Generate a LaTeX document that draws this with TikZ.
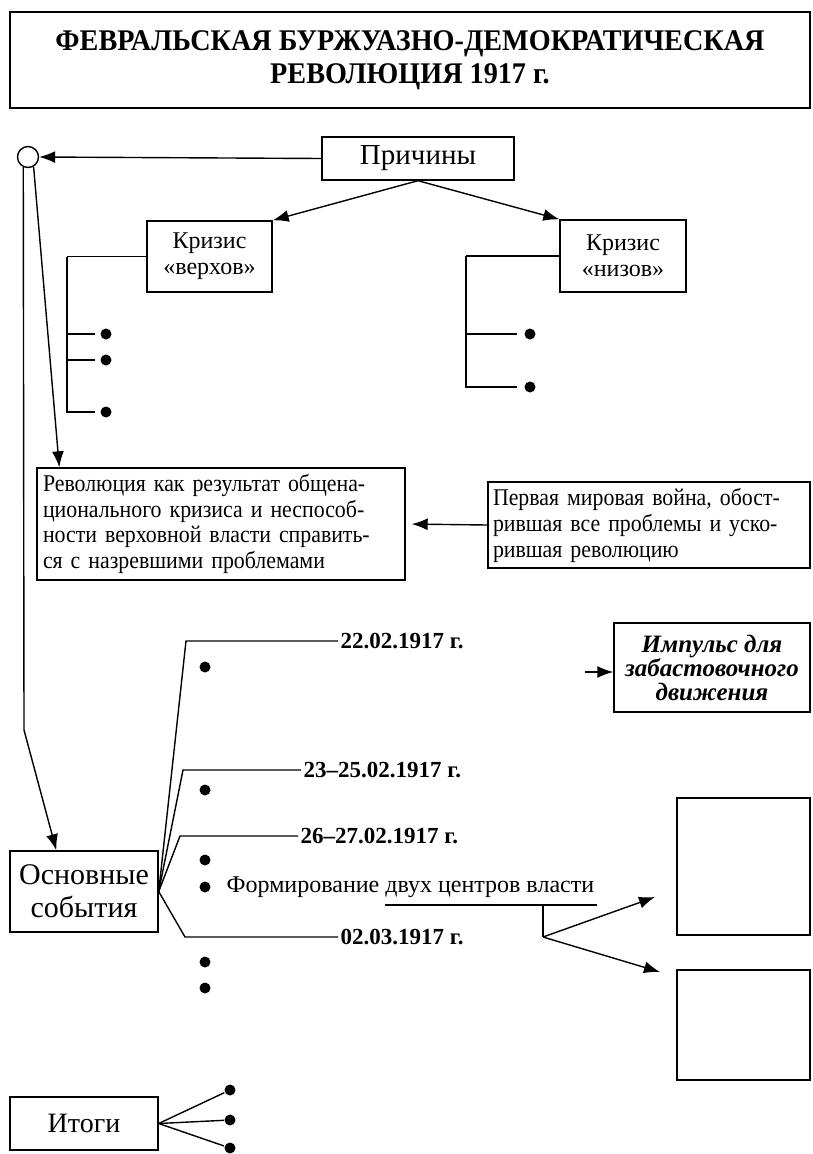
\documentclass[tikz,border=0pt]{standalone}
\usepackage{fontspec}
\setmainfont{Liberation Serif}
\newfontfamily\narrowfont[FakeStretch=0.94]{Liberation Serif}
\newfontfamily\bodyfont[FakeStretch=0.91]{Liberation Serif}
\usetikzlibrary{arrows.meta}

\begin{document}
\begin{tikzpicture}[x=1pt,y=-1pt,line width=1.4pt,>={Latex[length=16pt,width=12pt]},
    every node/.style={anchor=center},
    box/.style={draw,inner sep=0pt},
    dot/.style={circle,fill,inner sep=0pt,minimum size=11pt},
    date/.style={anchor=west,inner sep=2pt,font=\bfseries\fontsize{23}{26}\selectfont}]
    \useasboundingbox (0,0) rectangle (812,1154);
    \fill[white] (0,0) rectangle (812,1154);
    % title
    \node[box,minimum width=800,minimum height=96,align=center,font=\narrowfont\bfseries\fontsize{30}{33}\selectfont] (title) at (410,60) {ФЕВРАЛЬСКАЯ БУРЖУАЗНО-ДЕМОКРАТИЧЕСКАЯ\\РЕВОЛЮЦИЯ 1917 г.};
    % causes
    \node[box,minimum width=192,minimum height=43,font=\fontsize{29}{30}\selectfont] (why) at (418,158.5) {Причины};
    \node[circle,draw,minimum size=21pt,inner sep=0pt] (hub) at (28,157) {};
    \node[box,minimum width=125,minimum height=71,align=center,font=\fontsize{24}{26}\selectfont] (top) at (209.5,256.5) {Кризис\\«верхов»};
    \node[box,minimum width=126,minimum height=72,align=center,font=\fontsize{24}{26}\selectfont] (bottom) at (623,256) {Кризис\\«низов»};
    \node[dot] (t1) at (106,334) {};
    \node[dot] (t2) at (106,360) {};
    \node[dot] (t3) at (106,412) {};
    \node[dot] (b1) at (530,334) {};
    \node[dot] (b2) at (530,387) {};
    \node[box,minimum width=368,minimum height=112,text width=356,align=left,font=\bodyfont\fontsize{24}{25.5}\selectfont] (rev) at (221,524) {Революция как результат общена-\\ционального кризиса и неспособ-\\ности верховной власти справить-\\ся с назревшими проблемами};
    \node[box,minimum width=322,minimum height=86,text width=312,align=left,font=\bodyfont\fontsize{24}{26}\selectfont] (war) at (649,525) {Первая мировая война, обост-\\рившая все проблемы и уско-\\рившая революцию};
    \draw[->] (why.west) -- (hub.east);
    \draw[->] (why.south) -- (top.north east);
    \draw[->] (why.south) -- (bottom.north west);
    \coordinate (tspine) at (67,256.5);
    \coordinate (bspine) at (466,256);
    \draw (top.west) -- (tspine);
    \foreach \d in {t1,t2,t3}
      \draw[shorten >=11pt] (tspine) |- (\d.center);
    \draw (bottom.west) -- (bspine);
    \foreach \d in {b1,b2}
      \draw[shorten >=13pt] (bspine) |- (\d.center);
    \draw[->,shorten >=6pt] (war.west) -- (rev.east);
    % main events
    \node[box,minimum width=148,minimum height=81,align=center,font=\fontsize{30}{33}\selectfont] (events) at (84,891.5) {Основные\\события};
    \node[date] (d1) at (338,641) {22.02.1917 г.};
    \node[date] (d2) at (301,770) {23–25.02.1917 г.};
    \node[date] (d3) at (298,836) {26–27.02.1917 г.};
    \node[date] (d4) at (338,937) {02.03.1917 г.};
    \node[dot] (e1) at (205,667) {};
    \node[dot] (e2) at (205,790) {};
    \node[dot] (e3) at (205,860) {};
    \node[dot] (e4) at (205,887) {};
    \node[dot] (e5) at (205,962) {};
    \node[dot] (e6) at (205,988) {};
    \node[anchor=west,inner sep=0pt,font=\fontsize{24}{26}\selectfont] (form) at (226,887) {Формирование двух центров власти};
    \node[box,minimum width=196,minimum height=89,align=center,font=\bfseries\itshape\fontsize{25}{24}\selectfont] (imp) at (712,667.5) {Импульс для\\забастовочного\\движения};
    \node[box,minimum width=133,minimum height=137] (pow1) at (743.5,866.5) {};
    \node[box,minimum width=133,minimum height=110] (pow2) at (743.5,1025) {};
    \coordinate (k1) at (186,641);
    \coordinate (k2) at (183,770);
    \coordinate (k3) at (180,836);
    \coordinate (k4) at (185,937);
    \foreach \k/\d in {k1/d1,k2/d2,k3/d3,k4/d4}
      \draw (events.east) -- (\k) -- (\d.west);
    \coordinate (ul) at (385,905);
    \coordinate (ur) at (597,905);
    \coordinate (fork) at (543,937);
    \coordinate (a1) at (655,897);
    \coordinate (a2) at (660,972);
    \draw (ul) -- (ur);
    \draw (fork |- ul) -- (fork);
    \draw[->] (fork) -- (a1);
    \draw[->] (fork) -- (a2);
    \coordinate (istart) at (585,672);
    \draw[->] (istart) -- (istart -| imp.west);
    % links from the hub
    \coordinate (bend) at (24,730);
    \draw[->] (hub.245) -- (bend) -- ([xshift=47pt]events.north west);
    \draw[->] (hub.300) -- ([xshift=23pt]rev.north west);
    % results
    \node[box,minimum width=148,minimum height=53,font=\fontsize{28}{30}\selectfont] (itogi) at (84,1123.5) {Итоги};
    \node[dot] (r1) at (230,1090) {};
    \node[dot] (r2) at (230,1120) {};
    \node[dot] (r3) at (230,1148) {};
    \foreach \r in {r1,r2,r3}
      \draw (itogi.east) -- (\r);
  \end{tikzpicture}
\end{document}
